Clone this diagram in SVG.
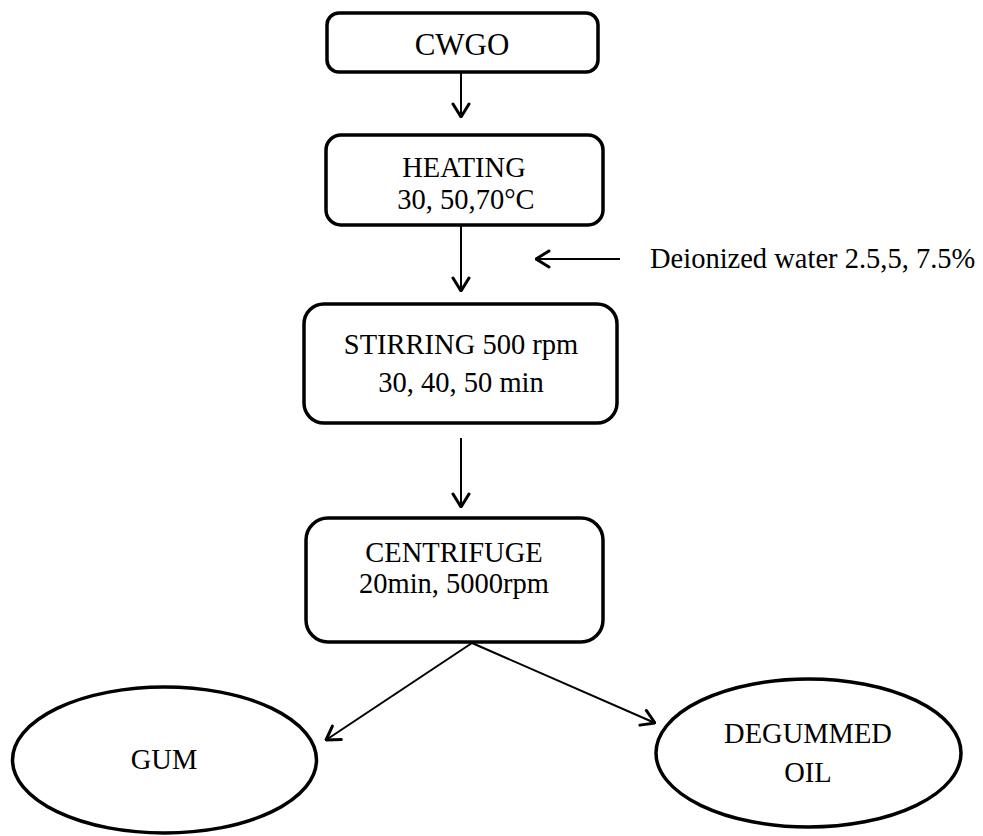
<svg xmlns="http://www.w3.org/2000/svg" width="983" height="836" viewBox="0 0 983 836">
<style>
.box{fill:#fff;stroke:#000;stroke-width:3.5}
.ell{fill:#fff;stroke:#000;stroke-width:3.5}
.t{font-family:"Liberation Serif","Times New Roman",serif;font-size:28.5px;fill:#000;text-anchor:middle}
.c{stroke:#000;stroke-width:2;fill:none}
</style>
<defs>
<marker id="ah" viewBox="0 0 16 20" refX="15" refY="10" markerWidth="16" markerHeight="20" markerUnits="userSpaceOnUse" orient="auto">
<path d="M2,2 L15,10 L2,18" fill="none" stroke="#000" stroke-width="3" stroke-linecap="round" stroke-linejoin="round"/>
</marker>
</defs>
<rect width="983" height="836" fill="#fff"/>
<g id="connectors">
<line class="c" x1="461" y1="73" x2="461" y2="117" marker-end="url(#ah)"/>
<line class="c" x1="461" y1="226" x2="461" y2="291" marker-end="url(#ah)"/>
<line class="c" x1="620" y1="259" x2="536" y2="259" marker-end="url(#ah)"/>
<line class="c" x1="461" y1="438" x2="461" y2="507" marker-end="url(#ah)"/>
<line class="c" x1="472" y1="643" x2="326" y2="740" marker-end="url(#ah)"/>
<line class="c" x1="472" y1="643" x2="655" y2="723" marker-end="url(#ah)"/>
</g>
<g id="cwgo">
<rect class="box" x="327" y="13" width="271" height="59" rx="12"/>
<text class="t" x="462" y="55" style="font-size:31px">CWGO</text>
</g>
<g id="heating">
<rect class="box" x="326" y="135" width="277" height="90" rx="15"/>
<text class="t" x="464" y="177">HEATING</text>
<text class="t" x="466" y="209">30, 50,70°C</text>
</g>
<g id="water">
<text x="650" y="268" style="font-family:'Liberation Serif','Times New Roman',serif;font-size:28.5px">Deionized water 2.5,5, 7.5%</text>
</g>
<g id="stirring">
<rect class="box" x="304" y="304" width="313" height="119" rx="20"/>
<text class="t" x="461" y="354">STIRRING 500 rpm</text>
<text class="t" x="461" y="392">30, 40, 50 min</text>
</g>
<g id="centrifuge">
<rect class="box" x="306" y="518" width="297" height="124" rx="22"/>
<text class="t" x="454" y="562">CENTRIFUGE</text>
<text class="t" x="454" y="593">20min, 5000rpm</text>
</g>
<g id="gum">
<ellipse class="ell" cx="164.5" cy="760" rx="152" ry="73"/>
<text class="t" x="164" y="769">GUM</text>
</g>
<g id="degummed">
<ellipse class="ell" cx="808.5" cy="753" rx="152.5" ry="74"/>
<text class="t" x="808" y="743">DEGUMMED</text>
<text class="t" x="808" y="782">OIL</text>
</g>
</svg>
